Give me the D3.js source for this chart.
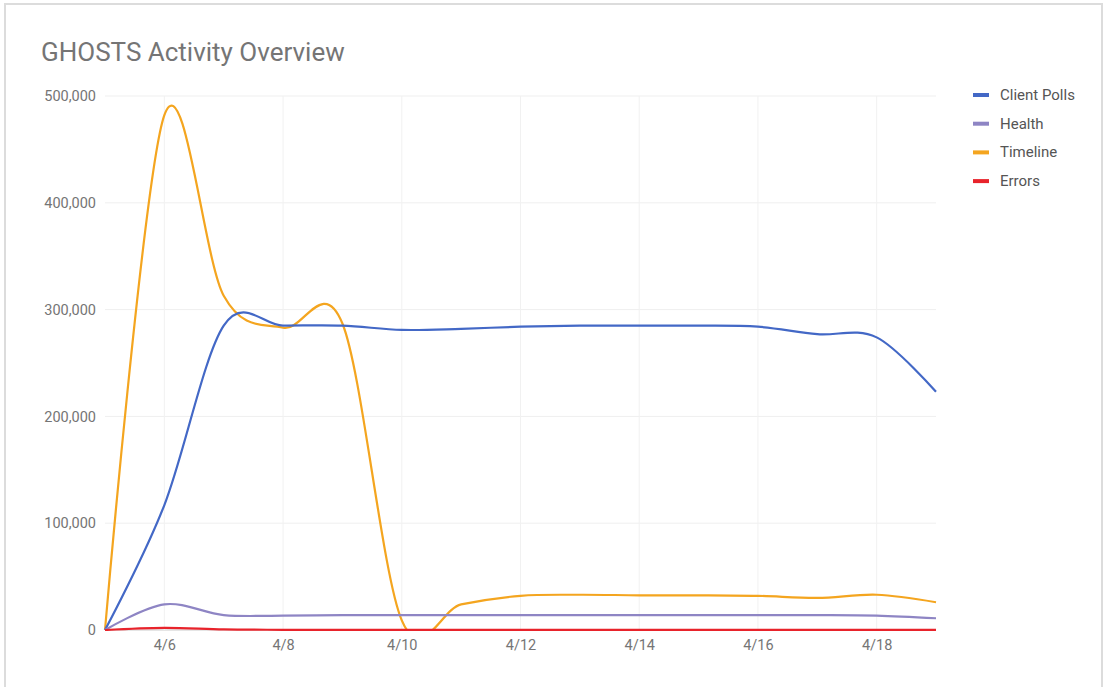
<!DOCTYPE html>
<html>
<head>
<meta charset="utf-8">
<script src="https://cdn.jsdelivr.net/npm/d3@7"></script>
<style>
  html, body { margin: 0; padding: 0; background: #fff; }
  svg { display: block; }
</style>
</head>
<body>
<svg id="chart" width="1107" height="687"></svg>
<script>
// ---- data ----
const dates = ["2018-04-05","2018-04-06","2018-04-07","2018-04-08","2018-04-09","2018-04-10",
               "2018-04-11","2018-04-12","2018-04-13","2018-04-14","2018-04-15","2018-04-16",
               "2018-04-17","2018-04-18","2018-04-19"];
const clientPolls = [0, 117000, 285000, 285000, 285000, 281000, 282000, 284000, 285000, 285000, 285000, 284000, 277000, 274000, 223000];
const health      = [0, 24000, 14000, 13500, 14000, 14000, 14000, 14000, 14000, 14000, 14000, 14000, 14000, 13500, 11000];
const timeline    = [0, 482000, 313000, 283000, 287000, 9000, 24000, 32000, 33000, 32500, 32500, 32000, 30000, 33000, 26000];
const errors      = [0, 2000, 500, 200, 100, 100, 100, 100, 100, 100, 100, 100, 100, 100, 100];
const seriesNames = ["Client Polls", "Health", "Timeline", "Errors"];
const seriesColors = ["#4368c6", "#8e85c4", "#f4a51f", "#e8232b"];
const yTicks = [0, 100000, 200000, 300000, 400000, 500000];
const xTickDates = ["2018-04-06","2018-04-08","2018-04-10","2018-04-12","2018-04-14","2018-04-16","2018-04-18"];
const title = "GHOSTS Activity Overview";

// ---- layout ----
const svg = d3.select("#chart");
const pL = 105, pR = 936, pT = 96, pB = 630;
const parse = d3.timeParse("%Y-%m-%d");
const x = d3.scaleTime().domain([parse(dates[0]), parse(dates[dates.length - 1])]).range([pL, pR]);
const y = d3.scaleLinear().domain([0, 500000]).range([pB, pT]);
const font = "Roboto, 'Noto Sans', sans-serif";

// card border
svg.append("rect").attr("x", 5).attr("y", 4).attr("width", 1097).attr("height", 700)
  .attr("fill", "#fff").attr("stroke", "#dcdcdc").attr("stroke-width", 2);

// title
svg.append("text").attr("x", 41).attr("y", 61).text(title)
  .attr("font-family", font).attr("font-size", 26)
  .attr("fill", "#757575");

// gridlines
const grid = svg.append("g");
grid.selectAll("line.h").data(yTicks).enter().append("line")
  .attr("x1", pL).attr("x2", pR)
  .attr("y1", d => y(d)).attr("y2", d => y(d))
  .attr("stroke", d => d === 0 ? "#cccccc" : "#efefef").attr("stroke-width", 1);
grid.selectAll("line.v").data(xTickDates).enter().append("line")
  .attr("x1", d => x(parse(d))).attr("x2", d => x(parse(d)))
  .attr("y1", pT).attr("y2", pB)
  .attr("stroke", "#f1f1f1").attr("stroke-width", 1);

// axes
const yAxis = d3.axisLeft(y).tickValues(yTicks).tickSize(0).tickPadding(9)
  .tickFormat(d3.format(","));
const yg = svg.append("g").attr("transform", `translate(${pL},0)`).call(yAxis);
yg.select(".domain").remove();
yg.selectAll("text").attr("font-family", font)
  .attr("font-size", 14.5).attr("fill", "#757575");

const xAxis = d3.axisBottom(x).tickValues(xTickDates.map(parse)).tickSize(0).tickPadding(10)
  .tickFormat(d3.timeFormat("%-m/%-d"));
const xg = svg.append("g").attr("transform", `translate(0,${pB})`).call(xAxis);
xg.select(".domain").remove();
xg.selectAll("text").attr("font-family", font)
  .attr("font-size", 14.5).attr("fill", "#757575");

// clip
svg.append("defs").append("clipPath").attr("id", "plotclip")
  .append("rect").attr("x", pL - 2).attr("y", pT - 10).attr("width", pR - pL + 4).attr("height", pB - pT + 11);

const allSeries = [clientPolls, health, timeline, errors];
const line = d3.line()
  .x((d, i) => x(parse(dates[i])))
  .y(d => y(d))
  .curve(d3.curveCardinal.tension(0));

const plot = svg.append("g").attr("clip-path", "url(#plotclip)");
// draw in order so errors on top
[2, 0, 1, 3].forEach(k => {
  plot.append("path").datum(allSeries[k])
    .attr("d", line).attr("fill", "none")
    .attr("stroke", seriesColors[k]).attr("stroke-width", 2.2)
    .attr("stroke-linejoin", "round");
});

// legend
const lg = svg.append("g");
seriesNames.forEach((name, i) => {
  const cy = 95 + i * 28.7;
  lg.append("rect").attr("x", 973).attr("y", cy - 2).attr("width", 16).attr("height", 4)
    .attr("fill", seriesColors[i]);
  lg.append("text").attr("x", 1000).attr("y", cy + 5).text(name)
    .attr("font-family", font).attr("font-size", 15)
    .attr("fill", "#555");
});
</script>
</body>
</html>
